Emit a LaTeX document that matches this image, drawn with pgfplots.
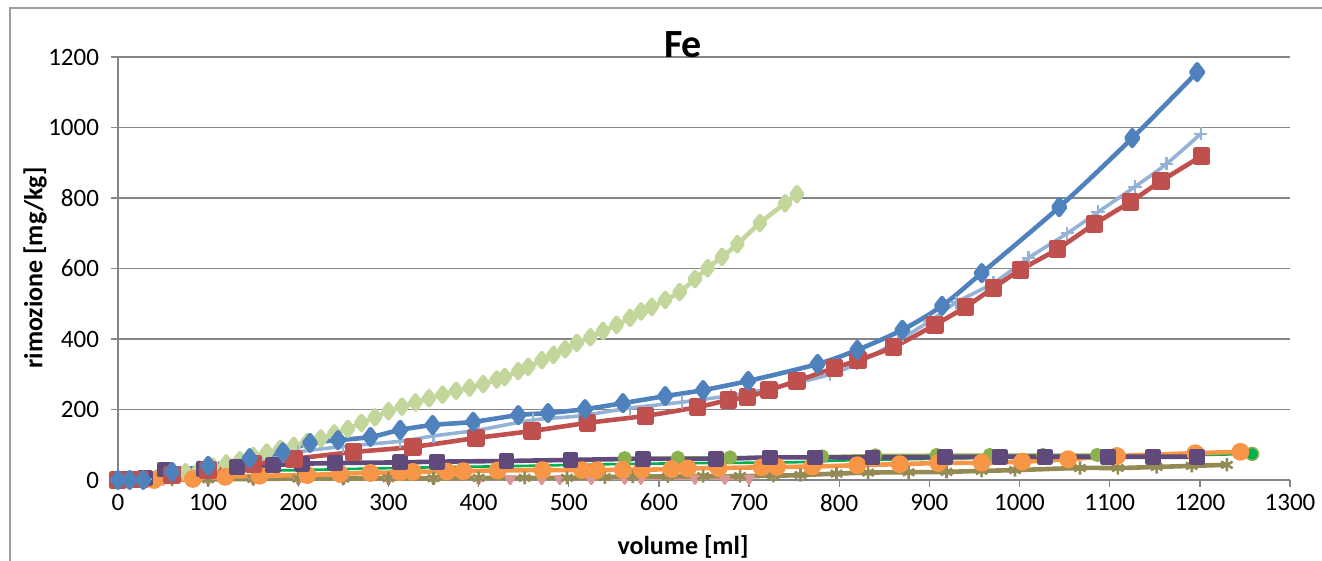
\documentclass[border=0pt]{standalone}
\usepackage{fontspec}
\setmainfont{Carlito}
\usepackage{pgfplots}
\pgfplotsset{compat=1.18}

\definecolor{axgray}{HTML}{868686}
\definecolor{sblue}{HTML}{4F81BD}
\definecolor{sred}{HTML}{C0504D}
\definecolor{slblue}{HTML}{95B3D7}
\definecolor{slgreen}{HTML}{C3D69B}
\definecolor{spurple}{HTML}{604A7B}
\definecolor{sorange}{HTML}{F79646}
\definecolor{solive}{HTML}{948A54}
\definecolor{spink}{HTML}{D99795}
\definecolor{sgreen}{HTML}{00B050}
\definecolor{sogreen}{HTML}{8DB04F}

\begin{document}
\begin{tikzpicture}
\path[use as bounding box] (0,0) rectangle (661pt,280.5pt);
\draw[axgray!80, line width=0.8pt] (5pt,0) -- (5pt,276.5pt) -- (661pt,276.5pt);
\begin{axis}[
    at={(59pt,40.5pt)}, anchor=south west,
    scale only axis, width=586pt, height=211.5pt,
    xmin=0, xmax=1300, ymin=0, ymax=1200,
    xtick={0,100,...,1300}, ytick={0,200,...,1200},
    axis lines*=left,
    axis line style={-, axgray, line width=0.7pt},
    ymajorgrids,
    grid style={axgray, line width=0.7pt},
    tick align=outside, major tick length=3.5pt,
    tick style={axgray, line width=0.7pt},
    tick label style={font=\fontsize{12.5}{14}\selectfont},
    yticklabel style={xshift=-2.5pt},
    /pgf/number format/assume math mode=true,
    /pgf/number format/1000 sep={},
    clip=false,
    every axis plot/.append style={line join=round}
]

% light green diamonds
\addplot[slgreen, line width=2.3pt, smooth, mark=diamond*, mark size=3.5pt] coordinates {
 (0,0) (13,0) (28,2) (45,8) (60,15) (75,22) (90,30) (105,38) (120,47) (135,56)
 (150,68) (165,78) (180,88) (195,97) (210,108) (225,118) (240,132) (255,145)
 (270,162) (285,178) (300,195) (315,208) (330,220) (345,232) (360,242) (375,253)
 (390,262) (405,272) (420,285) (429,292) (444,309) (455,321) (470,340) (483,355)
 (496,371) (509,389) (524,405) (538,423) (553,440) (568,460) (580,478) (592,491)
 (607,511) (623,533) (640,570) (654,601) (670,633) (687,669) (712,729) (740,785)
 (753,811)
};

% olive green circles (mostly behind purple)
\addplot[sogreen, line width=1.5pt, smooth, mark=*, mark size=2.8pt] coordinates {
 (562,62) (621,63) (679,64)
 (781,67) (840,70) (908,71) (967,71) (1026,71) (1086,71)
};

% pink triangles
\addplot[spink, line width=1.5pt, mark=triangle*, mark size=2.4pt, mark options={rotate=180}] coordinates {
 (0,0) (50,1) (100,1) (150,2) (200,2) (250,2) (300,3) (350,3) (400,3) (435,3)
 (470,3) (490,3) (525,3) (562,4) (580,4) (640,4) (673,4) (700,4)
};

% olive stars
\addplot[solive, line width=2.3pt, smooth, mark=asterisk, mark size=3.3pt, mark options={line width=1.3pt}] coordinates {
 (0,0) (30,0) (60,1) (100,2) (150,3) (200,4) (250,4) (300,5) (350,5) (400,6)
 (451,6) (498,6) (540,8) (571,10) (610,10) (649,11) (690,11) (727,12) (757,14)
 (797,18) (832,21) (877,22) (919,23) (958,26) (995,28) (1067,34) (1109,34)
 (1152,37) (1191,40) (1230,43)
};

% bright green line
\addplot[sgreen, line width=1.3pt, smooth] coordinates {
 (0,0) (30,2) (60,10) (100,18) (130,25) (200,28) (270,32) (350,36) (450,40)
 (550,45) (650,48) (745,50) (800,55) (900,60) (1000,64) (1100,68) (1200,71) (1258,74)
};
\addplot[sgreen, only marks, mark=*, mark size=3.2pt, mark options={draw=sogreen, line width=0.8pt}] coordinates {(1258,74)};

% orange circles
\addplot[sorange, line width=2.3pt, smooth, mark=*, mark size=3.3pt] coordinates {
 (0,0) (40,0) (83,3) (119,9) (157,12) (210,14) (246,18) (280,20) (313,22) (327,23)
 (365,24) (383,25) (421,27) (471,28) (515,28) (531,28) (560,29) (581,29) (614,31)
 (632,33) (666,34) (714,36) (731,37) (770,38) (820,42) (867,45) (910,48) (958,49)
 (1003,52) (1054,59) (1108,68) (1195,76) (1245,80)
};

% purple squares
\addplot[spurple, line width=2.3pt, smooth, mark=square*, mark size=2.8pt] coordinates {
 (0,0) (15,2) (30,5) (52,30) (95,32) (132,36) (172,42) (204,46) (241,48) (313,50)
 (354,52) (431,54) (502,57) (582,60) (663,60) (723,64) (773,64) (837,64) (917,65)
 (978,66) (1028,66) (1098,66) (1148,66) (1197,66)
};

% light blue plus
\addplot[slblue, line width=1.8pt, smooth, mark=+, mark size=3.3pt, mark options={line width=1.1pt}] coordinates {
 (0,0) (30,3) (60,15) (100,35) (150,58) (200,80) (250,95) (313,110) (350,125)
 (400,142) (460,170) (512,182) (568,204) (626,221) (680,240) (720,258) (760,280)
 (790,300) (820,330) (865,395) (900,450) (930,504) (971,559) (1010,630)
 (1053,700) (1087,760) (1128,832) (1163,897) (1201,982)
};

% red squares
\addplot[sred, line width=2.3pt, smooth, mark=square*, mark size=3.2pt] coordinates {
 (0,0) (25,2) (60,14) (100,28) (150,45) (195,60) (261,79) (327,94) (397,119)
 (459,139) (521,162) (585,182) (643,207) (677,227) (698,235) (722,255) (753,281)
 (795,318) (821,340) (860,377) (906,440) (940,491) (971,545) (1001,596)
 (1042,655) (1083,726) (1123,789) (1157,848) (1202,919)
};

% dark blue diamonds
\addplot[sblue, line width=2.3pt, smooth, mark=diamond*, mark size=3.9pt] coordinates {
 (0,0) (13,0) (28,0) (60,23) (100,40) (146,62) (183,79) (213,105) (244,113)
 (280,122) (313,142) (349,156) (394,165) (444,184) (477,190) (518,201) (560,218)
 (607,238) (649,255) (699,281) (776,329) (820,369) (870,426) (914,494) (958,587)
 (1044,774) (1125,970) (1197,1157)
};
\end{axis}
\node[font=\bfseries\fontsize{20}{24}\selectfont] at (341.5pt,258pt) {Fe};
\node[rotate=90, font=\bfseries\fontsize{13}{15}\selectfont] at (17.5pt,146.5pt) {rimozione [mg/kg]};
\node[font=\bfseries\fontsize{13}{15}\selectfont] at (341.5pt,7pt) {volume [ml]};
\end{tikzpicture}
\end{document}
